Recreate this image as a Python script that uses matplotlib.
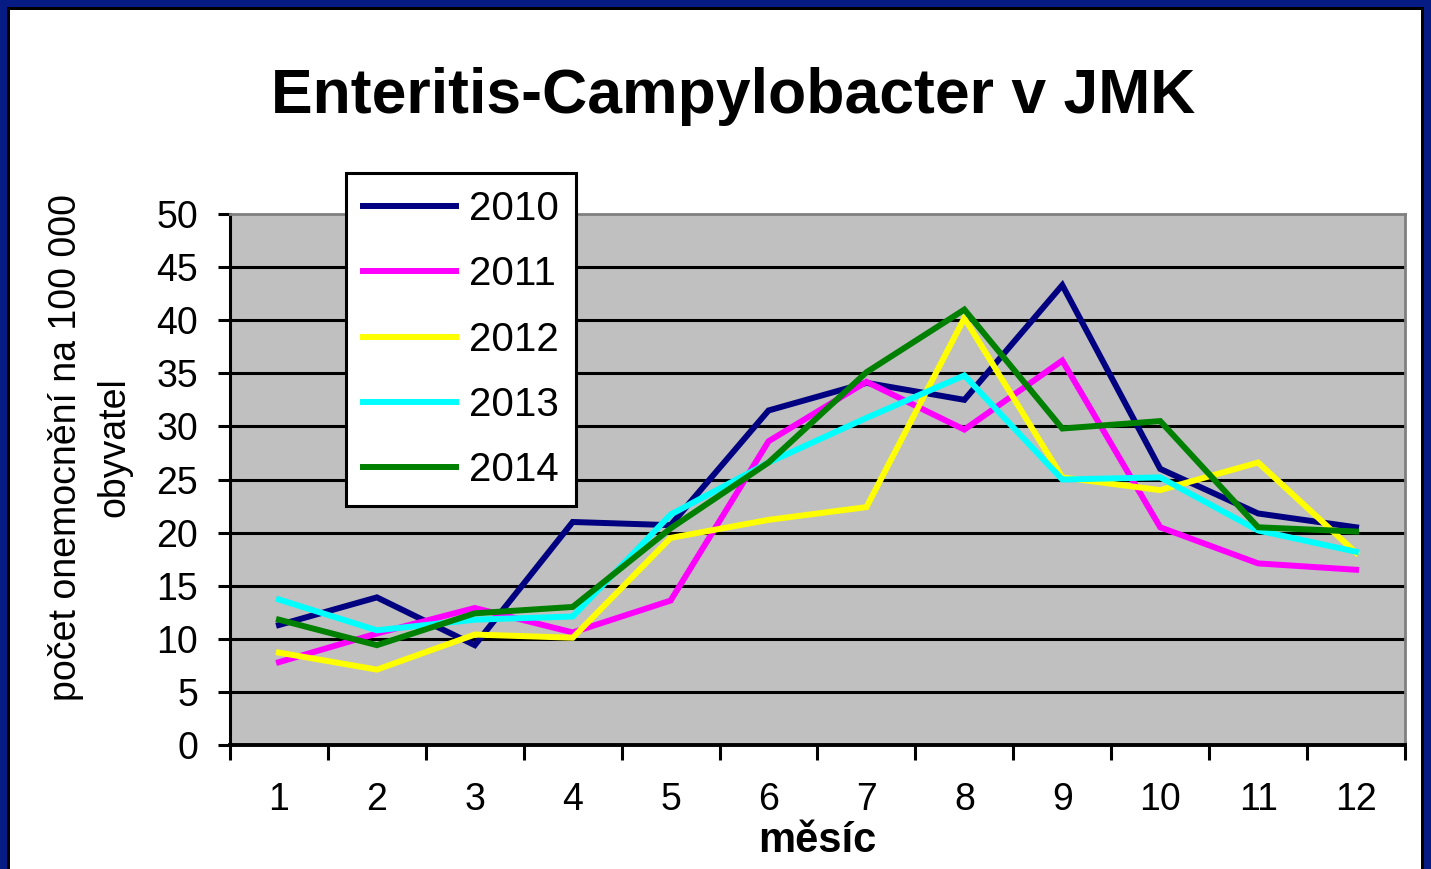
import matplotlib
matplotlib.use('Agg')
import matplotlib.pyplot as plt
from matplotlib.patches import Rectangle
from matplotlib.ticker import FixedLocator


months = [1, 2, 3, 4, 5, 6, 7, 8, 9, 10, 11, 12]
years = ['2010', '2011', '2012', '2013', '2014']
colorsList = ['#000080', '#FF00FF', '#FFFF00', '#00FFFF', '#008000']

y2010 = [11.3, 13.9, 9.4, 21.0, 20.7, 31.5, 34.1, 32.5, 43.3, 26.0, 21.8, 20.5]
y2011 = [7.8, 10.5, 12.9, 10.6, 13.6, 28.6, 34.2, 29.7, 36.2, 20.5, 17.1, 16.5]
y2012 = [8.7, 7.1, 10.4, 10.1, 19.5, 21.2, 22.4, 40.2, 25.2, 24.0, 26.6, 18.1]
y2013 = [13.7, 10.8, 11.8, 12.1, 21.7, 26.6, 30.8, 34.8, 25.0, 25.2, 20.2, 18.2]
y2014 = [11.8, 9.4, 12.4, 13.0, 20.4, 26.6, 35.1, 41.0, 29.8, 30.5, 20.5, 20.1]
series = [y2010, y2011, y2012, y2013, y2014]

yticks = [0, 5, 10, 15, 20, 25, 30, 35, 40, 45, 50]

fig = plt.figure(figsize=(14.31, 8.69), dpi=100)
plt.rcParams['font.family'] = ['Liberation Sans', 'DejaVu Sans']

# frame round the picture
fig.patch.set_facecolor('#061C84')
fig.patches.append(Rectangle((7 / 1431, 0), 1 - 14 / 1431, 1 - 7 / 869, transform=fig.transFigure,
                             facecolor='black', edgecolor='none', zorder=-2))
fig.patches.append(Rectangle((10 / 1431, 0), 1 - 20 / 1431, 1 - 10 / 869, transform=fig.transFigure,
                             facecolor='white', edgecolor='none', zorder=-1))

ax = fig.add_axes([230 / 1431, 124 / 869, 1175 / 1431, 531 / 869])
ax.set_zorder(2)
ax.set_facecolor('#C0C0C0')

for yv in yticks[1:-1]:
    ax.axhline(yv, color='black', lw=2.2, zorder=1)

for name, vals, c in zip(years, series, colorsList):
    ax.plot(months, vals, color=c, lw=4.3, label=name, zorder=3, solid_joinstyle='miter')

ax.set_xlim(0.5, 12.5)
ax.set_ylim(0, 50)
ax.set_yticks(yticks)
ax.set_yticklabels([str(v) for v in yticks], fontsize=27)
ax.tick_params(axis='y', direction='out', length=9, width=2.2, pad=14)

ax.xaxis.set_major_locator(FixedLocator([i + 0.5 for i in range(0, 13)]))
ax.set_xticklabels([])
ax.xaxis.set_minor_locator(FixedLocator(months))
ax.set_xticklabels([str(m) for m in months], minor=True, fontsize=27)
ax.tick_params(axis='x', which='major', direction='out', length=11, width=2.2)
ax.tick_params(axis='x', which='minor', length=0, pad=27)

ax.spines['left'].set_linewidth(2.2)
ax.spines['bottom'].set_linewidth(2.8)
ax.spines['top'].set_color('#808080')
ax.spines['right'].set_color('#808080')
ax.spines['top'].set_linewidth(2)
ax.spines['right'].set_linewidth(2)

ax.set_xlabel('měsíc', fontsize=30, fontweight='bold', labelpad=2)
ax.set_ylabel('počet onemocnění na 100 000\nobyvatel', fontsize=27, linespacing=1.45)
ax.yaxis.set_label_coords(-0.083, 0.561)

fig.text(733 / 1431, 1 - 97 / 869, 'Enteritis-Campylobacter v JMK', fontsize=45, fontweight='bold',
         ha='center', va='center')

leg = ax.legend(loc='upper left', bbox_to_anchor=(346 / 1431, 1 - 173 / 869), bbox_transform=fig.transFigure,
                fontsize=29, frameon=True, fancybox=False, handlelength=2.3, handletextpad=0.33,
                labelspacing=0.68, borderpad=0.42, borderaxespad=0)
leg.get_frame().set_edgecolor('black')
leg.get_frame().set_linewidth(2.2)
leg.get_frame().set_facecolor('white')
leg.get_frame().set_alpha(1)
leg.set_zorder(5)

fig.savefig('out.png', dpi=100, facecolor=fig.get_facecolor())
